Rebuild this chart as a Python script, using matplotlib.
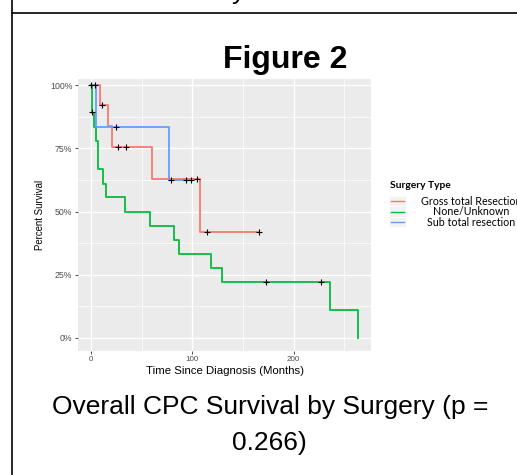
import matplotlib
matplotlib.use('Agg')
import matplotlib.pyplot as plt
from matplotlib.lines import Line2D
from matplotlib.patches import Rectangle

plt.rcParams['font.family'] = ['Liberation Sans', 'DejaVu Sans']

# Kaplan-Meier steps (time in months, survival fraction)
gross_t = [0, 8.5, 16.4, 20.3, 60.5, 107.7, 165.5]
gross_s = [1.0, 0.923, 0.839, 0.755, 0.629, 0.419, 0.419]
gross_cens_t = [4.3, 11.2, 26.3, 34.2, 104.3, 114.2, 165.5]
gross_cens_s = [1.0, 0.923, 0.755, 0.755, 0.629, 0.419, 0.419]

none_t = [0, 0.7, 3.0, 4.6, 6.6, 7.2, 11.5, 14.8, 33.9, 58.5, 82.3, 87.2,
          118.5, 129.3, 236.3, 263.3]
none_s = [1.0, 0.889, 0.833, 0.778, 0.722, 0.667, 0.611, 0.556, 0.5, 0.444,
          0.389, 0.333, 0.278, 0.222, 0.111, 0.0]
none_cens_t = [0.7, 173.0, 227.4]
none_cens_s = [0.894, 0.222, 0.222]

sub_t = [0, 4.9, 77.3, 98.4]
sub_s = [1.0, 0.833, 0.625, 0.625]
sub_cens_t = [0.0, 24.4, 78.7, 93.5, 98.4]
sub_cens_s = [1.0, 0.833, 0.625, 0.625, 0.625]

groups = ['Gross total Resection', 'None/Unknown', 'Sub total resection']
colors = ['#F8766D', '#00BA38', '#619CFF']

W, H = 517, 475
fig = plt.figure(figsize=(W / 100, H / 100), dpi=100)

def fx(px):
    return px / W

def fy(py):
    return 1 - py / H

# plot panel
ax = fig.add_axes([fx(78), fy(350.7), fx(371) - fx(78), fy(79.3) - fy(350.7)])
ax.set_facecolor('#EBEBEB')
for s in ax.spines.values():
    s.set_visible(False)

ax.set_xlim(-12.8, 276.4)
ax.set_ylim(-0.0515, 1.024)
ax.set_xticks([0, 100, 200])
ax.set_xticks([50, 150, 250], minor=True)
ax.set_yticks([0, 0.25, 0.5, 0.75, 1.0])
ax.set_yticklabels(['0%', '25%', '50%', '75%', '100%'])
ax.set_yticks([0.125, 0.375, 0.625, 0.875], minor=True)
ax.grid(which='major', color='white', lw=1.0)
ax.grid(which='minor', color='white', lw=0.5)
ax.set_axisbelow(True)
ax.tick_params(which='major', length=2.5, width=0.6, color='#333333',
               labelcolor='#4D4D4D', pad=1.5)
ax.tick_params(axis='y', labelsize=6.3)
ax.tick_params(axis='x', labelsize=5.8)
ax.tick_params(which='minor', length=0)

data = [(gross_t, gross_s), (none_t, none_s), (sub_t, sub_s)]
for (t, s), c in zip(data, colors):
    ax.step(t, s, where='post', color=c, lw=1.4, alpha=0.9)

for t, s in [(gross_cens_t, gross_cens_s), (none_cens_t, none_cens_s),
             (sub_cens_t, sub_cens_s)]:
    ax.plot(t, s, ls='none', marker='+', color='black', ms=5, mew=0.8)

ax.set_xlabel('Time Since Diagnosis (Months)', fontsize=8.2, labelpad=2)
ax.set_ylabel('Percent Survival', fontsize=6.9, labelpad=4)

# legend drawn by hand (ggplot style, centred labels)
fig.text(fx(390), fy(185.5), 'Surgery Type', family='Lato', weight='bold',
         fontsize=7.4, ha='left', va='center')
rows = [201, 211.5, 222]
for i, (g, c) in enumerate(zip(groups, colors)):
    y = rows[i]
    fig.add_artist(Rectangle((fx(389), fy(y + 5)), fx(17), fy(y - 5) - fy(y + 5),
                             transform=fig.transFigure, facecolor='#F2F2F2',
                             edgecolor='white', lw=0.5))
    fig.add_artist(Line2D([fx(391), fx(404)], [fy(y), fy(y)],
                          transform=fig.transFigure, color=c, lw=1.0))
    fig.text(fx(471), fy(y), g, family='Lato', fontsize=7.7, ha='center',
             va='center')

# titles and caption
fig.text(fx(285), fy(60), 'Figure 2', weight='bold', fontsize=23,
         ha='center', va='center')
fig.text(fx(270), fy(407), 'Overall CPC Survival by Surgery (p =',
         fontsize=19, ha='center', va='center')
fig.text(fx(269), fy(443), '0.266)', fontsize=19, ha='center', va='center')

# page frame and clipped text from above
fig.add_artist(Line2D([fx(11.5), 1], [fy(12.8), fy(12.8)],
                      transform=fig.transFigure, color='black', lw=1.2))
fig.add_artist(Line2D([fx(11.5), fx(11.5)], [0, 1],
                      transform=fig.transFigure, color='black', lw=1.2))
fig.text(fx(239), 1.003, 'y', fontsize=19, ha='center', va='baseline')

fig.savefig('out.png', dpi=100)
